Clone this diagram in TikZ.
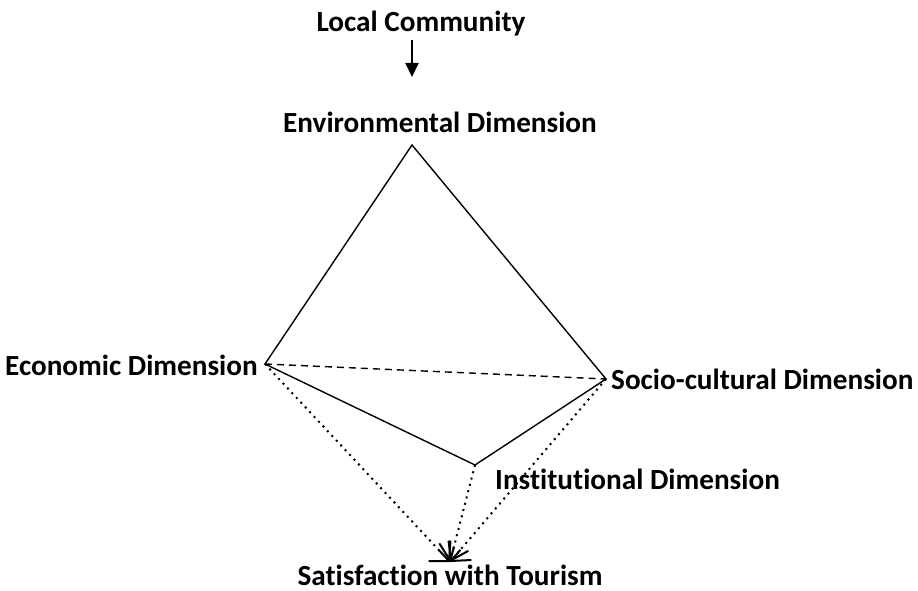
\documentclass[tikz,border=0pt]{standalone}
\usepackage{fontspec}
\setmainfont[Ligatures=NoCommon]{Carlito}
\usetikzlibrary{arrows.meta,calc}
\begin{document}
\begin{tikzpicture}[
    x=1pt,y=-1pt,
    lbl/.style={font=\fontsize{29.2}{33}\selectfont\bfseries,inner sep=0pt},
    edge/.style={line width=1.4pt},
    toS/.style={line width=2pt,dash pattern=on 2pt off 4.5pt},
    headS/.style={line width=2pt,-{Straight Barb[length=14pt,width=30pt,line width=2pt]}},
    >=Triangle
]
\useasboundingbox (0,0) rectangle (918,591);

\coordinate (env) at (412,145);
\coordinate (eco) at (265,364);
\coordinate (soc) at (606,379);
\coordinate (ins) at (475,465);
\coordinate (sat) at (450,562);

\node[lbl,anchor=base] (lc) at (421,32) {Local Community};
\node[lbl,anchor=base] (envl) at (440,133) {Environmental Dimension};
\node[lbl,anchor=base east] (ecol) at (258,375) {Economic Dimension};
\node[lbl,anchor=base west] (socl) at (611,389) {Socio-cultural Dimension};
\node[lbl,anchor=base west] (insl) at (495,489) {Institutional Dimension};
\node[lbl,anchor=base] (satl) at (450,585) {Satisfaction with Tourism};

\coordinate (top) at (412,40);
\coordinate (tip) at (412,77);
\draw[line width=2pt,-{Triangle[length=14pt,width=13pt]}] (top) -- (tip);

\draw[edge] (eco) -- (env) -- (soc) -- (ins) -- cycle;
\draw[edge,dash pattern=on 7pt off 5pt] (eco) -- (soc);

% dotted links to satisfaction
\foreach \src in {eco,ins,soc}{
  \draw[toS] (\src) -- (sat);
  \draw[headS] ($(sat)!16pt!(\src)$) -- (sat);
}
\end{tikzpicture}
\end{document}
